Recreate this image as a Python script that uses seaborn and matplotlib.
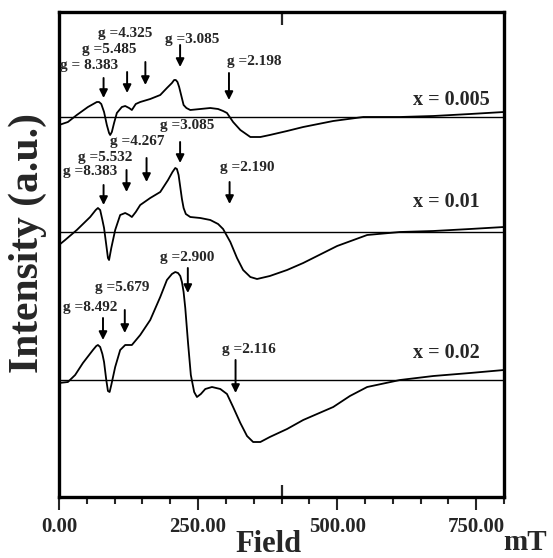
import numpy as np
import pandas as pd
import matplotlib
matplotlib.use('Agg')
import matplotlib.pyplot as plt
from matplotlib.ticker import MultipleLocator, FormatStrFormatter
import seaborn as sns

# EPR spectra (field in mT, intensity relative to each baseline, a.u.)
field_005 = [0, 16, 32, 52, 68, 72, 76, 81, 86, 90, 92, 95, 99, 104, 113, 119, 126, 131, 138,
             146, 164, 182, 194, 203, 207, 210, 213, 216, 220, 224, 229, 236, 254, 272, 286,
             295, 302, 313, 326, 344, 362, 379, 410, 439, 493, 547, 613, 673, 739, 800]
inten_005 = [-8, -5, 2, 10, 15, 15, 13, 5, -8, -16, -18, -15, -6, 4, 10, 11, 9, 7, 13,
             15, 18, 22, 29, 34, 37, 37, 35, 30, 21, 12, 9, 7, 8, 9, 8,
             6, 4, -5, -13, -20, -20, -18, -14, -10, -4, 0, 0, 1, 3, 5]

field_01 = [0, 11, 32, 56, 66, 70, 74, 78, 81, 85, 88, 90, 94, 101, 110, 119, 126, 131, 138,
            146, 164, 182, 196, 204, 209, 212, 215, 218, 221, 224, 228, 236, 254, 272, 286,
            295, 308, 320, 331, 344, 356, 379, 410, 439, 500, 554, 613, 673, 739, 800]
inten_01 = [-13, -8, 2, 15, 22, 24, 22, 12, 4, -13, -26, -28, -16, 2, 17, 19, 17, 15, 20,
            27, 34, 40, 52, 60, 64, 63, 57, 45, 33, 24, 18, 15, 14, 12, 8,
            3, -10, -26, -38, -45, -47, -44, -38, -31, -14, -3, 0, 1, 3, 5]

field_02 = [0, 16, 29, 43, 61, 67, 70, 74, 78, 81, 85, 88, 91, 94, 101, 110, 119, 131, 146,
            164, 182, 194, 203, 209, 214, 218, 221, 224, 227, 232, 237, 243, 248, 255, 263,
            275, 290, 302, 313, 326, 338, 349, 362, 379, 410, 439, 493, 523, 554, 613, 673,
            739, 800]
inten_02 = [-3, -2, 5, 17, 30, 34, 35, 33, 26, 18, 0, -11, -12, -5, 13, 30, 35, 35, 45,
            60, 83, 100, 106, 108, 107, 104, 98, 88, 72, 37, 5, -12, -17, -14, -9,
            -7, -9, -14, -27, -43, -56, -62, -62, -57, -49, -40, -27, -16, -7, 0, 4,
            7, 10]

samples = ['x = 0.005', 'x = 0.01', 'x = 0.02']
offsets = [383, 268, 120]

# g-factors marked on each spectrum
g_005 = ['8.383', '5.485', '4.325', '3.085', '2.198']
g_01 = ['8.383', '5.532', '4.267', '3.085', '2.190']
g_02 = ['8.492', '5.679', '2.900', '2.116']
MW_FREQ_GHZ = 9.4  # X-band

# layout of the arrows/labels: (arrow tail, arrow tip, label left x, label y), relative to baseline
layout_005 = [(39, 19, 2, 52), (45, 24, 41, 68), (55, 32, 70, 84), (72, 50, 191, 78), (44, 17, 302, 56)]
layout_01 = [(47, 27, 7, 60), (62, 40, 34, 74), (74, 50, 92, 90), (90, 69, 182, 107), (50, 28, 290, 64)]
layout_02 = [(62, 40, 7, 73), (70, 47, 65, 93), (112, 87, 182, 123), (20, -13, 293, 31)]
label_fmt_005 = ['g = {}', 'g ={}', 'g ={}', 'g ={}', 'g ={}']


def g_to_field(g: float) -> float:
    """Resonance field (mT) for a g-value at the given microwave frequency."""
    return 71.4477 * MW_FREQ_GHZ / g


frames = []
for name, off, f, i in zip(samples, offsets,
                           [field_005, field_01, field_02],
                           [inten_005, inten_01, inten_02]):
    frames.append(pd.DataFrame({'Field': f, 'Signal': np.array(i) + off, 'Sample': name}))
df = pd.concat(frames, ignore_index=True)

sns.set_style('ticks')
plt.rcParams['font.family'] = ['Liberation Serif', 'DejaVu Serif']
plt.rcParams['font.weight'] = 'bold'

fig = plt.figure(figsize=(5.53, 5.58), dpi=100)
ax = fig.add_axes([59 / 553, 1 - 497 / 558, 445 / 553, 485 / 558])

sns.lineplot(data=df, x='Field', y='Signal', units='Sample', estimator=None, sort=False,
             color='black', lw=1.3, ax=ax, legend=False)

for off in offsets:
    ax.axhline(off, color='black', lw=1.0, zorder=1)

arrow_kw = dict(arrowstyle='-|>', color='black', lw=1.4, mutation_scale=12,
                shrinkA=0, shrinkB=0)
groups = [
    (offsets[0], g_005, layout_005, label_fmt_005),
    (offsets[1], g_01, layout_01, ['g ={}'] * len(g_01)),
    (offsets[2], g_02, layout_02, ['g ={}'] * len(g_02)),
]
for off, gs, lay, fmts in groups:
    for g, (tail, tip, lx, ly), fmt in zip(gs, lay, fmts):
        b = g_to_field(float(g))
        ax.annotate('', xy=(b, off + tip), xytext=(b, off + tail), arrowprops=arrow_kw)
        ax.text(lx, off + ly, fmt.format(g), fontsize=11, fontweight='bold',
                ha='left', va='center')

sample_label_y = [17, 30, 27]
for name, off, dy in zip(samples, offsets, sample_label_y):
    ax.text(637, off + dy, name, fontsize=14.5, fontweight='bold', ha='left', va='center')

ax.set_xlim(0, 800)
ax.set_ylim(3, 488)
ax.xaxis.set_major_locator(MultipleLocator(250))
ax.xaxis.set_minor_locator(MultipleLocator(50))
ax.xaxis.set_major_formatter(FormatStrFormatter('%.2f'))
ax.set_yticks([])
ax.tick_params(axis='x', which='major', direction='out', length=9.5, width=1.5,
               labelsize=15, pad=5)
ax.tick_params(axis='x', which='minor', direction='out', length=5, width=1.5)
for lab in ax.get_xticklabels():
    lab.set_fontweight('bold')
for sp in ax.spines.values():
    sp.set_visible(True)
    sp.set_linewidth(2.4)
    sp.set_color('black')

# inner tick at 400 mT on top and bottom
for side in ['top', 'bottom']:
    sec = ax.secondary_xaxis(side)
    sec.set_xticks([400])
    sec.tick_params(direction='in', length=9, width=1.6, labelbottom=False, labeltop=False)
    sec.spines[side].set_visible(False)

ax.set_xlabel('Field', fontsize=22, fontweight='bold', va='center')
ax.xaxis.set_label_coords(0.47, -0.098)
ax.set_ylabel('Intensity (a.u.)', fontsize=30, fontweight='bold', va='center')
ax.yaxis.set_label_coords(-0.07, 0.524)
fig.text(525 / 553, 1 - 542 / 558, 'mT', fontsize=21, fontweight='bold',
         ha='center', va='center')

fig.savefig('out.png', dpi=100)
plt.close(fig)
